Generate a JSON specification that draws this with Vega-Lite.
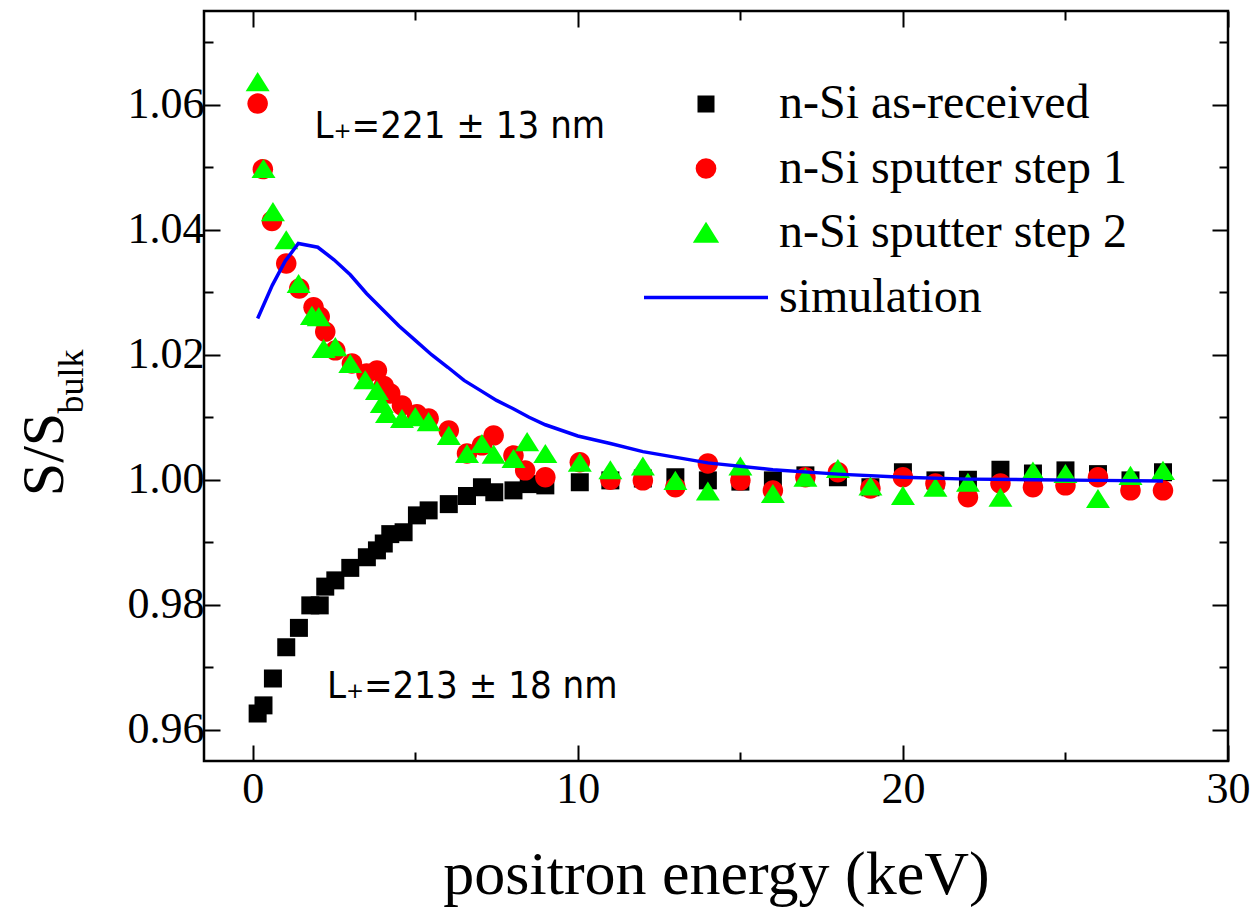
{
  "$schema": "https://vega.github.io/schema/vega-lite/v6.json",
  "width": 1024,
  "height": 750,
  "autosize": {"type": "none"},
  "padding": {"left": 204, "top": 11, "right": 27, "bottom": 151},
  "background": "white",
  "config": {
    "view": {"stroke": "black", "strokeWidth": 2.5},
    "axis": {
      "grid": false,
      "domain": false,
      "tickColor": "black",
      "tickWidth": 2,
      "labelColor": "black",
      "titleColor": "black",
      "labelFont": "Liberation Serif",
      "titleFont": "Liberation Serif",
      "titleFontWeight": "normal",
      "labelOverlap": false,
      "labelFlush": false
    },
    "legend": {
      "orient": "none",
      "legendX": 478,
      "legendY": 69,
      "padding": 0,
      "symbolSize": 400,
      "symbolStrokeWidth": 3.5,
      "symbolOpacity": 1,
      "rowPadding": 16.5,
      "labelOffset": 49,
      "labelFont": "Liberation Serif",
      "labelFontSize": 48,
      "labelColor": "black",
      "labelLimit": 0
    }
  },
  "datasets": {
    "measured": [
      {"series": "n-Si as-received", "E": 0.15, "S": 0.9626},
      {"series": "n-Si as-received", "E": 0.33, "S": 0.9639},
      {"series": "n-Si as-received", "E": 0.62, "S": 0.9682},
      {"series": "n-Si as-received", "E": 1.03, "S": 0.9732},
      {"series": "n-Si as-received", "E": 1.42, "S": 0.9763},
      {"series": "n-Si as-received", "E": 1.77, "S": 0.9799},
      {"series": "n-Si as-received", "E": 2.06, "S": 0.9799},
      {"series": "n-Si as-received", "E": 2.23, "S": 0.9829},
      {"series": "n-Si as-received", "E": 2.54, "S": 0.9839},
      {"series": "n-Si as-received", "E": 3.0, "S": 0.9859},
      {"series": "n-Si as-received", "E": 3.51, "S": 0.9876},
      {"series": "n-Si as-received", "E": 3.82, "S": 0.9887},
      {"series": "n-Si as-received", "E": 4.03, "S": 0.9898},
      {"series": "n-Si as-received", "E": 4.23, "S": 0.9913},
      {"series": "n-Si as-received", "E": 4.64, "S": 0.9916},
      {"series": "n-Si as-received", "E": 5.05, "S": 0.9943},
      {"series": "n-Si as-received", "E": 5.41, "S": 0.9951},
      {"series": "n-Si as-received", "E": 6.03, "S": 0.9961},
      {"series": "n-Si as-received", "E": 6.59, "S": 0.9974},
      {"series": "n-Si as-received", "E": 7.05, "S": 0.9988},
      {"series": "n-Si as-received", "E": 7.43, "S": 0.998},
      {"series": "n-Si as-received", "E": 8.02, "S": 0.9983},
      {"series": "n-Si as-received", "E": 8.49, "S": 0.9993},
      {"series": "n-Si as-received", "E": 9.0, "S": 0.9991},
      {"series": "n-Si as-received", "E": 10.06, "S": 0.9996},
      {"series": "n-Si as-received", "E": 11, "S": 0.9999},
      {"series": "n-Si as-received", "E": 12, "S": 1.0002},
      {"series": "n-Si as-received", "E": 13, "S": 1.0004},
      {"series": "n-Si as-received", "E": 14, "S": 0.9999},
      {"series": "n-Si as-received", "E": 15, "S": 0.9997},
      {"series": "n-Si as-received", "E": 16, "S": 0.9999},
      {"series": "n-Si as-received", "E": 17, "S": 1.0007},
      {"series": "n-Si as-received", "E": 18, "S": 1.0004},
      {"series": "n-Si as-received", "E": 19, "S": 0.9988},
      {"series": "n-Si as-received", "E": 20, "S": 1.0012},
      {"series": "n-Si as-received", "E": 21, "S": 0.9999},
      {"series": "n-Si as-received", "E": 22, "S": 1.0},
      {"series": "n-Si as-received", "E": 23, "S": 1.0016},
      {"series": "n-Si as-received", "E": 24, "S": 1.001},
      {"series": "n-Si as-received", "E": 25, "S": 1.0015},
      {"series": "n-Si as-received", "E": 26, "S": 1.0009},
      {"series": "n-Si as-received", "E": 27, "S": 0.9999},
      {"series": "n-Si as-received", "E": 28, "S": 1.0012},

      {"series": "n-Si sputter step 1", "E": 0.15, "S": 1.0602},
      {"series": "n-Si sputter step 1", "E": 0.31, "S": 1.0497},
      {"series": "n-Si sputter step 1", "E": 0.59, "S": 1.0414},
      {"series": "n-Si sputter step 1", "E": 1.03, "S": 1.0346},
      {"series": "n-Si sputter step 1", "E": 1.43, "S": 1.0306},
      {"series": "n-Si sputter step 1", "E": 1.87, "S": 1.0276},
      {"series": "n-Si sputter step 1", "E": 2.06, "S": 1.0261},
      {"series": "n-Si sputter step 1", "E": 2.23, "S": 1.0237},
      {"series": "n-Si sputter step 1", "E": 2.54, "S": 1.0207},
      {"series": "n-Si sputter step 1", "E": 3.05, "S": 1.0186},
      {"series": "n-Si sputter step 1", "E": 3.5, "S": 1.017},
      {"series": "n-Si sputter step 1", "E": 3.82, "S": 1.0175},
      {"series": "n-Si sputter step 1", "E": 4.03, "S": 1.015},
      {"series": "n-Si sputter step 1", "E": 4.23, "S": 1.0138},
      {"series": "n-Si sputter step 1", "E": 4.59, "S": 1.0119},
      {"series": "n-Si sputter step 1", "E": 5.05, "S": 1.0105},
      {"series": "n-Si sputter step 1", "E": 5.41, "S": 1.0098},
      {"series": "n-Si sputter step 1", "E": 6.03, "S": 1.0079},
      {"series": "n-Si sputter step 1", "E": 6.59, "S": 1.0042},
      {"series": "n-Si sputter step 1", "E": 7.05, "S": 1.0055},
      {"series": "n-Si sputter step 1", "E": 7.41, "S": 1.0071},
      {"series": "n-Si sputter step 1", "E": 8.02, "S": 1.0039},
      {"series": "n-Si sputter step 1", "E": 8.38, "S": 1.0015},
      {"series": "n-Si sputter step 1", "E": 9.0, "S": 1.0004},
      {"series": "n-Si sputter step 1", "E": 10.06, "S": 1.0028},
      {"series": "n-Si sputter step 1", "E": 11, "S": 1.0},
      {"series": "n-Si sputter step 1", "E": 12, "S": 0.9999},
      {"series": "n-Si sputter step 1", "E": 13, "S": 0.9988},
      {"series": "n-Si sputter step 1", "E": 14, "S": 1.0026},
      {"series": "n-Si sputter step 1", "E": 15, "S": 0.9999},
      {"series": "n-Si sputter step 1", "E": 16, "S": 0.9983},
      {"series": "n-Si sputter step 1", "E": 17, "S": 1.0004},
      {"series": "n-Si sputter step 1", "E": 18, "S": 1.0012},
      {"series": "n-Si sputter step 1", "E": 19, "S": 0.9986},
      {"series": "n-Si sputter step 1", "E": 20, "S": 1.0004},
      {"series": "n-Si sputter step 1", "E": 21, "S": 0.9994},
      {"series": "n-Si sputter step 1", "E": 22, "S": 0.9972},
      {"series": "n-Si sputter step 1", "E": 23, "S": 0.9994},
      {"series": "n-Si sputter step 1", "E": 24, "S": 0.9988},
      {"series": "n-Si sputter step 1", "E": 25, "S": 0.9991},
      {"series": "n-Si sputter step 1", "E": 26, "S": 1.0004},
      {"series": "n-Si sputter step 1", "E": 27, "S": 0.9983},
      {"series": "n-Si sputter step 1", "E": 28, "S": 0.9983},

      {"series": "n-Si sputter step 2", "E": 0.15, "S": 1.0637},
      {"series": "n-Si sputter step 2", "E": 0.33, "S": 1.0498},
      {"series": "n-Si sputter step 2", "E": 0.62, "S": 1.0429},
      {"series": "n-Si sputter step 2", "E": 1.03, "S": 1.0384},
      {"series": "n-Si sputter step 2", "E": 1.41, "S": 1.0314},
      {"series": "n-Si sputter step 2", "E": 1.82, "S": 1.0263},
      {"series": "n-Si sputter step 2", "E": 2.03, "S": 1.0261},
      {"series": "n-Si sputter step 2", "E": 2.18, "S": 1.021},
      {"series": "n-Si sputter step 2", "E": 2.54, "S": 1.0213},
      {"series": "n-Si sputter step 2", "E": 3.0, "S": 1.0186},
      {"series": "n-Si sputter step 2", "E": 3.46, "S": 1.016},
      {"series": "n-Si sputter step 2", "E": 3.82, "S": 1.0143},
      {"series": "n-Si sputter step 2", "E": 3.97, "S": 1.0122},
      {"series": "n-Si sputter step 2", "E": 4.13, "S": 1.0106},
      {"series": "n-Si sputter step 2", "E": 4.59, "S": 1.0098},
      {"series": "n-Si sputter step 2", "E": 5.0, "S": 1.0101},
      {"series": "n-Si sputter step 2", "E": 5.41, "S": 1.0093},
      {"series": "n-Si sputter step 2", "E": 6.03, "S": 1.0071},
      {"series": "n-Si sputter step 2", "E": 6.59, "S": 1.0042},
      {"series": "n-Si sputter step 2", "E": 7.05, "S": 1.0058},
      {"series": "n-Si sputter step 2", "E": 7.41, "S": 1.0041},
      {"series": "n-Si sputter step 2", "E": 8.02, "S": 1.0034},
      {"series": "n-Si sputter step 2", "E": 8.44, "S": 1.0061},
      {"series": "n-Si sputter step 2", "E": 9.0, "S": 1.0042},
      {"series": "n-Si sputter step 2", "E": 10.06, "S": 1.0028},
      {"series": "n-Si sputter step 2", "E": 11, "S": 1.0016},
      {"series": "n-Si sputter step 2", "E": 12, "S": 1.0022},
      {"series": "n-Si sputter step 2", "E": 13, "S": 0.9999},
      {"series": "n-Si sputter step 2", "E": 14, "S": 0.9982},
      {"series": "n-Si sputter step 2", "E": 15, "S": 1.0022},
      {"series": "n-Si sputter step 2", "E": 16, "S": 0.9978},
      {"series": "n-Si sputter step 2", "E": 17, "S": 1.0004},
      {"series": "n-Si sputter step 2", "E": 18, "S": 1.0018},
      {"series": "n-Si sputter step 2", "E": 19, "S": 0.999},
      {"series": "n-Si sputter step 2", "E": 20, "S": 0.9975},
      {"series": "n-Si sputter step 2", "E": 21, "S": 0.9988},
      {"series": "n-Si sputter step 2", "E": 22, "S": 0.9996},
      {"series": "n-Si sputter step 2", "E": 23, "S": 0.9972},
      {"series": "n-Si sputter step 2", "E": 24, "S": 1.0014},
      {"series": "n-Si sputter step 2", "E": 25, "S": 1.001},
      {"series": "n-Si sputter step 2", "E": 26, "S": 0.997},
      {"series": "n-Si sputter step 2", "E": 27, "S": 1.0007},
      {"series": "n-Si sputter step 2", "E": 28, "S": 1.0015}
    ],
    "simulation": [
      {"E": 0.15, "S": 1.0258},
      {"E": 0.6, "S": 1.0311},
      {"E": 1.0, "S": 1.035},
      {"E": 1.4, "S": 1.0378},
      {"E": 2.0, "S": 1.0372},
      {"E": 2.5, "S": 1.0352},
      {"E": 3.0, "S": 1.0328},
      {"E": 3.5, "S": 1.0298},
      {"E": 4.0, "S": 1.0272},
      {"E": 4.5, "S": 1.0246},
      {"E": 5.0, "S": 1.0223},
      {"E": 5.5, "S": 1.02},
      {"E": 6.0, "S": 1.018},
      {"E": 6.5, "S": 1.0159},
      {"E": 7.0, "S": 1.0143},
      {"E": 7.5, "S": 1.0127},
      {"E": 8.0, "S": 1.0114},
      {"E": 8.5, "S": 1.01},
      {"E": 9.0, "S": 1.0088},
      {"E": 10, "S": 1.007},
      {"E": 11, "S": 1.0058},
      {"E": 12, "S": 1.0045},
      {"E": 14, "S": 1.0027},
      {"E": 16, "S": 1.0016},
      {"E": 18, "S": 1.0009},
      {"E": 20, "S": 1.0004},
      {"E": 22, "S": 1.0001},
      {"E": 24, "S": 1.0},
      {"E": 26, "S": 0.9999},
      {"E": 28, "S": 0.9998}
    ],
    "notes": [
      {"label": "L₊=221 ± 13 nm", "E": 6.37, "S": 1.0564},
      {"label": "L₊=213 ± 18 nm", "E": 6.75, "S": 0.9669}
    ]
  },
  "resolve": {
    "scale": {"x": "shared", "y": "shared", "color": "shared", "shape": "shared"},
    "axis": {"x": "independent", "y": "independent"}
  },
  "layer": [
    {
      "data": {"name": "measured"},
      "transform": [{"filter": "datum.series === 'n-Si as-received'"}],
      "mark": {"type": "point", "filled": true, "size": 711, "opacity": 1},
      "encoding": {
        "x": {
          "field": "E", "type": "quantitative",
          "scale": {"domain": [-1.5, 30], "nice": false, "zero": false},
          "axis": {
            "orient": "bottom", "values": [0, 10, 20, 30], "tickSize": -16,
            "labelFontSize": 44, "labelPadding": 22,
            "title": "positron energy (keV)", "titleFontSize": 62,
            "titleX": 512, "titleY": 132, "titleAlign": "center", "titleBaseline": "alphabetic"
          }
        },
        "y": {
          "field": "S", "type": "quantitative",
          "scale": {"domain": [0.955, 1.075], "nice": false, "zero": false},
          "axis": {
            "orient": "left", "values": [0.96, 0.98, 1.0, 1.02, 1.04, 1.06], "format": ".2f",
            "tickSize": -16, "labelFontSize": 44, "labelPadding": 16,
            "title": "S/S", "titleFontSize": 60, "titleAngle": -90,
            "titleX": -142, "titleY": 443, "titleAlign": "center", "titleBaseline": "alphabetic"
          }
        },
        "color": {
          "field": "series", "type": "nominal",
          "scale": {
            "domain": ["n-Si as-received", "n-Si sputter step 1", "n-Si sputter step 2", "simulation"],
            "range": ["#000000", "#ff0000", "#00ff00", "#0000ff"]
          },
          "legend": {"title": null}
        },
        "shape": {
          "field": "series", "type": "nominal",
          "scale": {
            "domain": ["n-Si as-received", "n-Si sputter step 1", "n-Si sputter step 2", "simulation"],
            "range": [
              "M-0.675,-0.675H0.675V0.675H-0.675Z",
              "M0.86,0A0.86,0.86,0,1,1,-0.86,0A0.86,0.86,0,1,1,0.86,0Z",
              "M0,-0.8L1,0.8L-1,0.8Z",
              "M-6.2,0H6.2"
            ]
          },
          "legend": {"title": null}
        }
      }
    },
    {
      "data": {"name": "measured"},
      "transform": [{"filter": "datum.series === 'n-Si sputter step 1'"}],
      "mark": {"type": "point", "filled": true, "size": 568, "opacity": 1},
      "encoding": {
        "x": {
          "field": "E", "type": "quantitative",
          "scale": {"domain": [-1.5, 30], "nice": false, "zero": false},
          "axis": {"orient": "bottom", "values": [5, 15, 25], "tickSize": -9, "labels": false, "title": null}
        },
        "y": {
          "field": "S", "type": "quantitative",
          "scale": {"domain": [0.955, 1.075], "nice": false, "zero": false},
          "axis": {
            "orient": "left", "values": [0.97, 0.99, 1.01, 1.03, 1.05, 1.07], "tickSize": -9, "labels": false,
            "title": "bulk", "titleFontSize": 36, "titleAngle": -90,
            "titleX": -122, "titleY": 370, "titleAlign": "center", "titleBaseline": "alphabetic"
          }
        },
        "color": {"field": "series", "type": "nominal", "legend": {"title": null}},
        "shape": {"field": "series", "type": "nominal", "legend": {"title": null}}
      }
    },
    {
      "data": {"name": "measured"},
      "transform": [{"filter": "datum.series === 'n-Si sputter step 2'"}],
      "mark": {"type": "point", "filled": true, "size": 576, "opacity": 1},
      "encoding": {
        "x": {
          "field": "E", "type": "quantitative",
          "scale": {"domain": [-1.5, 30], "nice": false, "zero": false},
          "axis": {"orient": "top", "values": [0, 10, 20, 30], "tickSize": -16, "labels": false, "title": null}
        },
        "y": {
          "field": "S", "type": "quantitative",
          "scale": {"domain": [0.955, 1.075], "nice": false, "zero": false},
          "axis": {"orient": "right", "values": [0.96, 0.98, 1.0, 1.02, 1.04, 1.06], "tickSize": -16, "labels": false, "title": null}
        },
        "color": {"field": "series", "type": "nominal", "legend": {"title": null}},
        "shape": {"field": "series", "type": "nominal", "legend": {"title": null}}
      }
    },
    {
      "data": {"name": "simulation"},
      "mark": {"type": "line", "strokeWidth": 3.5},
      "encoding": {
        "x": {
          "field": "E", "type": "quantitative",
          "scale": {"domain": [-1.5, 30], "nice": false, "zero": false},
          "axis": {"orient": "top", "values": [5, 15, 25], "tickSize": -9, "labels": false, "title": null}
        },
        "y": {
          "field": "S", "type": "quantitative",
          "scale": {"domain": [0.955, 1.075], "nice": false, "zero": false},
          "axis": {"orient": "right", "values": [0.97, 0.99, 1.01, 1.03, 1.05, 1.07], "tickSize": -9, "labels": false, "title": null}
        },
        "color": {"datum": "simulation", "type": "nominal", "legend": {"title": null}}
      }
    },
    {
      "data": {"name": "notes"},
      "mark": {"type": "text", "font": "DejaVu Sans Condensed", "fontSize": 38, "color": "black", "align": "center", "baseline": "middle"},
      "encoding": {
        "x": {"field": "E", "type": "quantitative", "axis": null},
        "y": {"field": "S", "type": "quantitative", "axis": null},
        "text": {"field": "label"}
      }
    }
  ]
}
